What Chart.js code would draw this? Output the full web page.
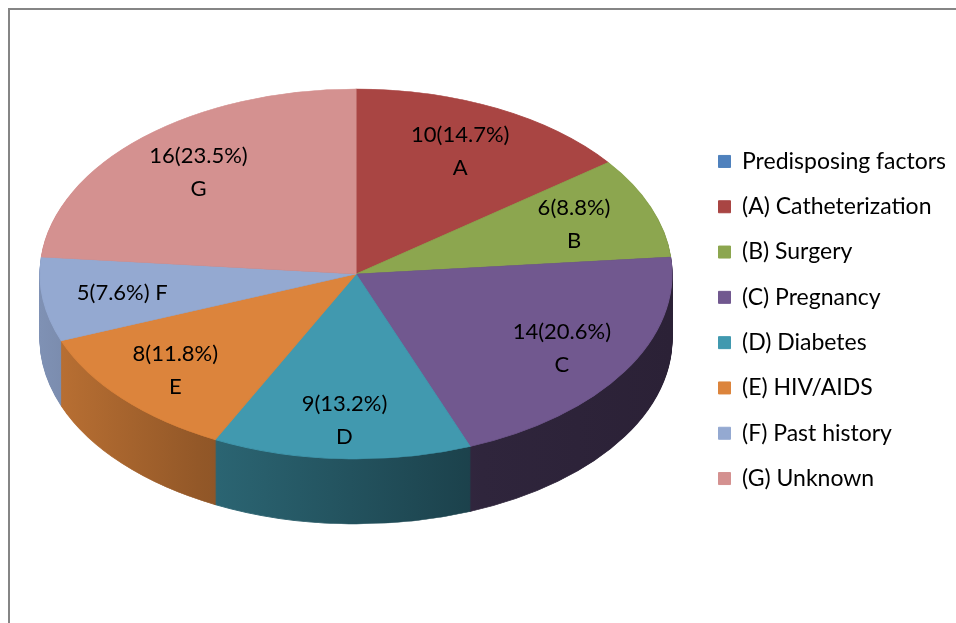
<!DOCTYPE html>
<html><head><meta charset="utf-8">
<script src="https://cdn.jsdelivr.net/npm/chart.js@4.4.0/dist/chart.umd.min.js"></script>
<style>
html,body{margin:0;padding:0;background:#fff;}
#wrap{position:relative;width:956px;height:623px;overflow:hidden;}
#frame{position:absolute;left:8px;top:8px;right:-5px;bottom:-5px;border-top:2px solid #858585;border-left:2px solid #858585;pointer-events:none;}
canvas{position:absolute;left:0;top:0;}
</style></head><body>
<div id="wrap"><canvas id="c" width="956" height="623"></canvas><div id="frame"></div></div>
<script>
// ---- data ----
const seriesName = 'Predisposing factors';
const seriesColor = '#4F81BD';
const categories = ['(A) Catheterization','(B) Surgery','(C) Pregnancy','(D) Diabetes','(E) HIV/AIDS','(F) Past history','(G) Unknown'];
const values = [10, 6, 14, 9, 8, 5, 16];
const dataLabels = [['10(14.7%)','A'],['6(8.8%)','B'],['14(20.6%)','C'],['9(13.2%)','D'],['8(11.8%)','E'],['5(7.6%) F'],['16(23.5%)','G']];
const colors = ['#A94543','#8CA64F','#71588F','#4199AF','#DC843C','#94A9D1','#D49190'];

// ---- style / geometry ----
const PIE = {cx: 356, cy: 274, rx: 316, ry: 185, depth: 65, labelR: 0.74, labelRFront: 0.05};
const FONT = 'Lato';

function shade(hex, f){
  const n = parseInt(hex.slice(1),16);
  const r = Math.round(((n>>16)&255)*f), g = Math.round(((n>>8)&255)*f), b = Math.round((n&255)*f);
  return 'rgb('+r+','+g+','+b+')';
}

const pie3d = {
  id: 'pie3d',
  beforeDatasetsDraw(chart){
    const ctx = chart.ctx;
    const arcs = chart.getDatasetMeta(0).data;
    const ex = arcs[0].x, ey = arcs[0].y, R = arcs[0].outerRadius;
    const sx = PIE.rx / R, sy = PIE.ry / R;
    const grads = arcs.map((el, i) => {
      const g = ctx.createLinearGradient(ex - R, 0, ex + R, 0);
      [[0,0.86],[0.25,0.67],[0.7,0.42],[1,0.38]].forEach(([o,f]) => g.addColorStop(o, shade(colors[i], f)));
      return g;
    });
    for (let s = PIE.depth; s >= 1; s--) {
      ctx.save();
      ctx.translate(PIE.cx, PIE.cy + s);
      ctx.scale(sx, sy);
      ctx.translate(-ex, -ey);
      arcs.forEach((el, i) => {
        const o = el.options;
        el.options = Object.assign({}, o, {backgroundColor: grads[i], borderColor: grads[i]});
        el.draw(ctx);
        el.options = o;
      });
      ctx.restore();
    }
    ctx.save();
    ctx.translate(PIE.cx, PIE.cy);
    ctx.scale(sx, sy);
    ctx.translate(-ex, -ey);
  },
  afterDatasetsDraw(chart){
    const ctx = chart.ctx;
    ctx.restore();
    const arcs = chart.getDatasetMeta(0).data;
    ctx.save();
    ctx.fillStyle = '#000';
    ctx.font = '22px ' + FONT;
    ctx.textAlign = 'center';
    ctx.textBaseline = 'middle';
    const lh = 33;
    arcs.forEach((el, i) => {
      const a = (el.startAngle + el.endAngle) / 2;
      const r = PIE.labelR + PIE.labelRFront * Math.max(0, Math.sin(a));
      const x = PIE.cx + PIE.rx * r * Math.cos(a);
      const y = PIE.cy + PIE.ry * r * Math.sin(a);
      const lines = dataLabels[i];
      const y0 = y - (lines.length - 1) * lh / 2;
      lines.forEach((t, k) => ctx.fillText(t, x, y0 + k * lh));
    });
    ctx.restore();
  }
};

new Chart(document.getElementById('c'), {
  type: 'pie',
  data: {
    labels: categories,
    datasets: [{
      data: values,
      backgroundColor: colors,
      borderColor: colors,
      borderWidth: 1
    }]
  },
  options: {
    responsive: false,
    animation: false,
    layout: {padding: {top: 17, left: 0, right: 0, bottom: 0}},
    plugins: {
      tooltip: {enabled: false},
      legend: {
        position: 'right',
        onClick: null,
        labels: {
          font: {family: FONT, size: 23},
          color: '#000',
          boxWidth: 12,
          boxHeight: 12,
          padding: 22.3,
          generateLabels(chart){
            const base = Chart.overrides.pie.plugins.legend.labels.generateLabels(chart);
            return [{text: seriesName, fillStyle: seriesColor, strokeStyle: seriesColor, lineWidth: 1, hidden: false, index: -1, fontColor: '#000'}].concat(base);
          }
        }
      }
    }
  },
  plugins: [pie3d]
});
</script>
</body></html>
